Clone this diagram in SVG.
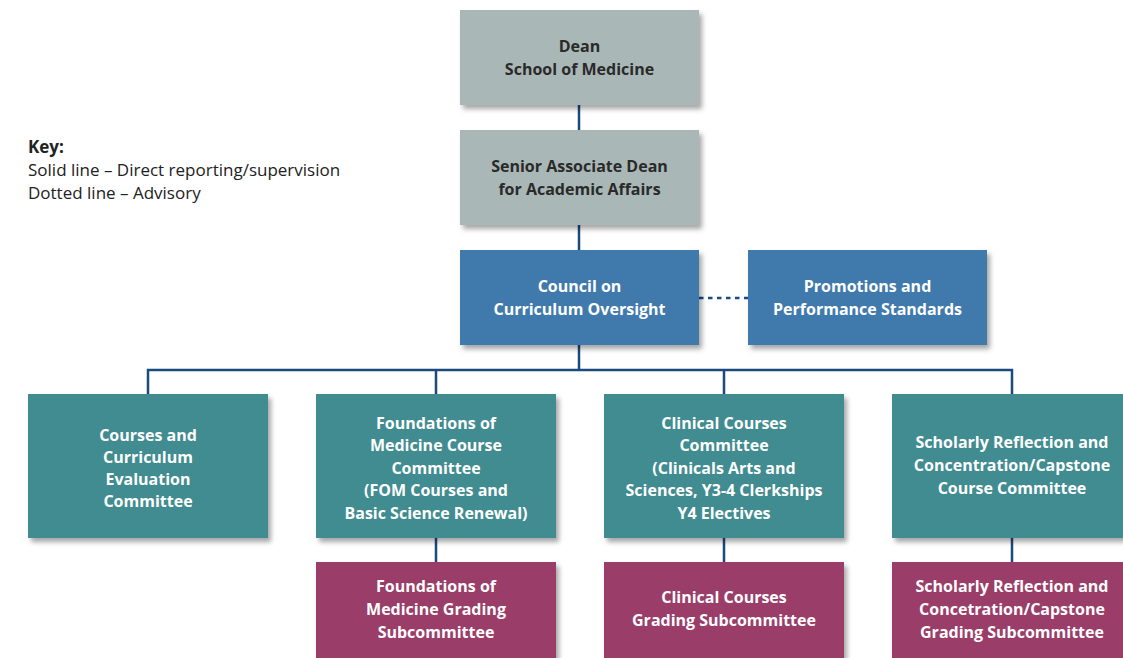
<svg xmlns="http://www.w3.org/2000/svg" width="1123" height="658" viewBox="0 0 1123 658">
<defs>
<filter id="sh" x="-10%" y="-10%" width="130%" height="130%">
<feDropShadow dx="3" dy="4" stdDeviation="2.5" flood-color="#000" flood-opacity="0.35"/>
</filter>
<style>
.box{filter:url(#sh)}
.g{fill:#a9b8b6}
.b{fill:#3f7aad}
.t{fill:#3f8c90}
.m{fill:#9b3e69}
text{font-family:"Open Sans","Liberation Sans",sans-serif;font-size:16px;font-weight:bold;text-anchor:middle}
.dk{fill:#2a2a2a}
.wt{fill:#ffffff}
.key{font-family:"Open Sans","Liberation Sans",sans-serif;font-size:17px;font-weight:normal;text-anchor:start;fill:#222}
.ln{stroke:#1b4a80;stroke-width:2.5;fill:none}
</style>
</defs>
<rect width="1123" height="658" fill="#fff"/>

<g id="key">
<text class="key" x="28" y="153" style="font-weight:bold">Key:</text>
<text class="key" x="28" y="176">Solid line – Direct reporting/supervision</text>
<text class="key" x="28" y="199">Dotted line – Advisory</text>
</g>

<g id="connectors">
<path class="ln" d="M579 105V130M579 225V250M579 345V370M148 395V370H1012V395M436 370V395M724 370V395M436 538V563M724 538V563M1012 538V563"/>
<path class="ln" d="M699 298H748" stroke-dasharray="4.5 4.5"/>
</g>

<g id="dean">
<rect class="box g" x="460" y="10" width="239" height="95"/>
<text class="dk" x="579.5" y="52">Dean</text>
<text class="dk" x="579.5" y="75">School of Medicine</text>
</g>
<g id="senior">
<rect class="box g" x="460" y="130" width="239" height="95"/>
<text class="dk" x="579.5" y="172">Senior Associate Dean</text>
<text class="dk" x="579.5" y="195">for Academic Affairs</text>
</g>
<g id="council">
<rect class="box b" x="460" y="250" width="239" height="95"/>
<text class="wt" x="579.5" y="292">Council on</text>
<text class="wt" x="579.5" y="315">Curriculum Oversight</text>
</g>
<g id="promotions">
<rect class="box b" x="748" y="250" width="239" height="95"/>
<text class="wt" x="867.5" y="292">Promotions and</text>
<text class="wt" x="867.5" y="315">Performance Standards</text>
</g>

<g id="courses">
<rect class="box t" x="28" y="394" width="240" height="144"/>
<text class="wt" x="148" y="441">Courses and</text>
<text class="wt" x="148" y="463">Curriculum</text>
<text class="wt" x="148" y="485">Evaluation</text>
<text class="wt" x="148" y="507">Committee</text>
</g>
<g id="fom">
<rect class="box t" x="316" y="394" width="240" height="144"/>
<text class="wt" x="436" y="429">Foundations of</text>
<text class="wt" x="436" y="451">Medicine Course</text>
<text class="wt" x="436" y="474">Committee</text>
<text class="wt" x="436" y="496">(FOM Courses and</text>
<text class="wt" x="436" y="519">Basic Science Renewal)</text>
</g>
<g id="clinical">
<rect class="box t" x="604" y="394" width="240" height="144"/>
<text class="wt" x="724" y="429">Clinical Courses</text>
<text class="wt" x="724" y="451">Committee</text>
<text class="wt" x="724" y="474">(Clinicals Arts and</text>
<text class="wt" x="724" y="496">Sciences, Y3-4 Clerkships</text>
<text class="wt" x="724" y="519">Y4 Electives</text>
</g>
<g id="scholarly">
<rect class="box t" x="892" y="394" width="240" height="144"/>
<text class="wt" x="1012" y="448">Scholarly Reflection and</text>
<text class="wt" x="1012" y="471">Concentration/Capstone</text>
<text class="wt" x="1012" y="494">Course Committee</text>
</g>

<g id="fom-grading">
<rect class="box m" x="316" y="562" width="240" height="110"/>
<text class="wt" x="436" y="592">Foundations of</text>
<text class="wt" x="436" y="615">Medicine Grading</text>
<text class="wt" x="436" y="638">Subcommittee</text>
</g>
<g id="clinical-grading">
<rect class="box m" x="604" y="562" width="240" height="110"/>
<text class="wt" x="724" y="603">Clinical Courses</text>
<text class="wt" x="724" y="626">Grading Subcommittee</text>
</g>
<g id="scholarly-grading">
<rect class="box m" x="892" y="562" width="240" height="110"/>
<text class="wt" x="1012" y="592">Scholarly Reflection and</text>
<text class="wt" x="1012" y="615">Concetration/Capstone</text>
<text class="wt" x="1012" y="638">Grading Subcommittee</text>
</g>
</svg>
